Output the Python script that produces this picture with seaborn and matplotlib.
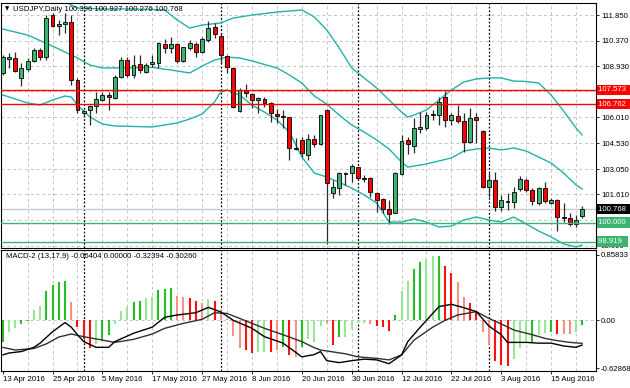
import numpy as np
import pandas as pd
import matplotlib
matplotlib.use("Agg")
import matplotlib.pyplot as plt
import matplotlib.transforms as mtransforms
import seaborn as sns

# ── data (USDJPY daily, 13 Apr - 22 Aug 2016) ──
date_labels = ["13 Apr 2016", "25 Apr 2016", "5 May 2016", "17 May 2016", "27 May 2016",
               "8 Jun 2016", "20 Jun 2016", "30 Jun 2016", "12 Jul 2016", "22 Jul 2016",
               "3 Aug 2016", "15 Aug 2016"]
label_bars = [0, 8, 16, 24, 32, 40, 48, 56, 64, 72, 80, 88]
month_start_bars = [13, 35, 57, 78]

opens = [108.52, 109.32, 109.38, 108.27, 108.75, 109.25, 109.86, 109.44, 111.85, 111.23,
         111.32, 111.44, 108.14, 106.28, 106.43, 106.66, 107.00, 107.29, 107.13, 108.33,
         109.28, 108.43, 109.04, 108.62, 109.04, 109.13, 110.18, 109.95, 110.18, 109.23,
         109.95, 110.18, 109.76, 110.43, 111.15, 110.65, 109.53, 108.85, 106.37, 107.57,
         107.32, 106.98, 107.06, 106.85, 106.18, 106.09, 106.01, 104.26, 104.72, 103.86,
         104.75, 104.49, 106.43, 101.71, 101.96, 102.76, 102.85, 103.16, 102.53, 102.53,
         101.71, 101.33, 100.76, 100.57, 102.77, 104.72, 104.39, 105.33, 105.38, 106.13,
         106.14, 107.19, 105.86, 106.09, 105.82, 104.62, 106.01, 105.25, 102.01, 102.43,
         100.87, 101.20, 101.20, 101.90, 102.43, 101.86, 101.10, 101.96, 101.14, 101.29,
         100.30, 100.24, 99.92, 100.396]
highs = [109.57, 109.66, 109.76, 109.09, 109.38, 109.95, 109.95, 111.85, 111.95, 111.57,
         111.95, 111.85, 108.24, 106.43, 106.72, 107.48, 107.48, 107.48, 108.43, 109.44,
         109.44, 109.57, 109.57, 109.09, 109.57, 110.33, 110.46, 110.62, 110.27, 110.05,
         110.43, 110.33, 110.62, 111.53, 111.38, 110.81, 109.57, 108.90, 107.67, 107.91,
         107.38, 107.19, 107.15, 106.91, 106.47, 106.43, 106.05, 104.81, 104.91, 105.06,
         105.00, 106.16, 106.47, 102.43, 102.91, 102.91, 103.35, 103.19, 102.72, 102.59,
         101.77, 101.39, 101.29, 102.91, 105.00, 104.91, 105.95, 106.33, 106.33, 106.43,
         107.19, 107.53, 106.24, 106.72, 106.24, 106.52, 106.24, 105.29, 102.81, 102.87,
         101.58, 101.71, 102.05, 102.66, 102.53, 101.96, 102.05, 102.34, 101.39, 101.33,
         101.10, 100.53, 100.43, 100.927]
lows = [108.43, 108.81, 108.62, 107.82, 108.67, 109.19, 109.28, 109.28, 111.19, 110.71,
        110.81, 107.86, 106.24, 106.14, 105.57, 106.28, 106.94, 106.43, 107.04, 108.24,
        108.33, 108.24, 108.52, 108.52, 108.90, 108.81, 109.66, 109.66, 109.13, 109.19,
        109.86, 109.47, 109.66, 110.33, 110.52, 109.09, 108.56, 106.52, 106.33, 107.15,
        106.56, 106.28, 106.58, 105.76, 105.67, 105.38, 103.58, 104.15, 103.77, 103.58,
        104.34, 104.43, 98.80, 101.39, 101.58, 102.15, 102.34, 102.43, 102.34, 101.48,
        100.62, 100.53, 99.92, 100.53, 102.72, 103.92, 103.96, 105.10, 105.29, 105.86,
        105.57, 105.44, 105.57, 105.67, 104.05, 104.53, 104.53, 101.96, 101.48, 100.68,
        100.68, 100.72, 100.82, 101.82, 101.77, 101.01, 101.01, 101.10, 101.06, 99.54,
        100.05, 99.81, 99.77, 100.276]
closes = [109.44, 109.44, 108.67, 108.85, 109.25, 109.86, 109.44, 111.66, 111.23, 111.34,
          111.44, 108.14, 106.43, 106.37, 106.66, 107.06, 107.29, 107.15, 108.29, 109.28,
          108.43, 109.00, 108.71, 109.00, 109.17, 110.24, 109.95, 110.18, 109.23, 110.01,
          110.24, 109.76, 110.46, 111.09, 110.75, 109.57, 108.90, 106.58, 107.57, 107.38,
          107.00, 107.13, 106.81, 106.24, 106.11, 106.03, 104.28, 104.22, 103.96, 104.75,
          104.49, 106.14, 102.28, 102.01, 102.81, 102.81, 103.25, 102.53, 102.47, 101.73,
          101.29, 100.76, 100.47, 102.85, 104.68, 104.49, 105.38, 105.48, 106.14, 106.18,
          106.91, 105.86, 106.14, 105.82, 104.62, 105.95, 105.86, 102.01, 102.43, 100.91,
          101.29, 101.23, 101.77, 102.47, 101.86, 101.25, 101.96, 101.25, 101.29, 100.30,
          100.24, 99.90, 100.15, 100.768]

# Bollinger bands (bar index, price)
upper_bars = [10, 12, 16, 20, 24, 26, 28, 30, 32, 35, 37, 40, 44, 48, 50, 52, 54, 56, 58, 60,
              62, 64, 65, 66, 68, 70, 72, 74, 76, 78, 80, 82, 84, 86, 88, 90, 92, 93]
upper_vals = [112.60, 112.25, 112.20, 112.20, 112.17, 112.14, 111.57, 111.11, 111.28, 111.40,
              111.68, 111.85, 112.02, 112.14, 111.74, 111.00, 109.97, 108.83, 108.26, 107.69,
              107.00, 106.31, 106.03, 106.14, 106.43, 107.00, 107.57, 108.03, 108.20, 108.26,
              108.26, 108.08, 108.06, 107.97, 107.29, 106.37, 105.40, 105.00]
middle_bars = [0, 4, 8, 12, 14, 16, 20, 24, 28, 30, 32, 34, 36, 38, 40, 44, 46, 48, 50, 52,
               54, 56, 58, 60, 62, 64, 65, 66, 68, 70, 72, 74, 76, 78, 80, 82, 84, 86, 88,
               90, 92, 93]
middle_vals = [111.05, 110.71, 110.08, 109.40, 109.00, 108.83, 108.83, 108.86, 108.66, 108.54,
               108.94, 109.28, 109.45, 109.40, 109.23, 108.83, 108.43, 107.97, 107.23, 106.77,
               106.14, 105.57, 105.17, 104.72, 104.20, 103.46, 103.17, 103.23, 103.35, 103.52,
               103.69, 104.09, 104.20, 104.26, 104.15, 104.26, 104.09, 103.74, 103.40, 102.83,
               102.15, 101.92]
lower_bars = [0, 4, 6, 8, 10, 11, 12, 14, 16, 18, 24, 28, 30, 32, 34, 35, 36, 37, 38, 40,
              42, 44, 46, 48, 50, 52, 54, 56, 58, 60, 62, 64, 66, 68, 70, 72, 74, 76, 78,
              80, 82, 84, 86, 88, 90, 92, 93]
lower_vals = [107.29, 106.83, 106.71, 107.00, 107.23, 107.17, 106.71, 106.03, 105.63, 105.52,
              105.46, 105.69, 105.91, 106.20, 106.89, 107.46, 107.57, 107.40, 107.29, 106.71,
              106.31, 105.86, 105.17, 103.75, 102.83, 102.60, 102.30, 101.97, 101.58, 101.12,
              100.03, 100.03, 100.21, 100.03, 99.75, 99.80, 100.15, 100.32, 100.15, 100.03,
              100.32, 99.92, 99.52, 99.18, 98.78, 98.61, 98.72]

red_levels = [107.573, 106.762]
green_levels = [100.000, 98.919]
last_price = 100.768
grid_prices = [111.850, 110.370, 108.930, 107.490, 106.010, 104.530, 103.050, 101.610, 100.170, 98.690]
price_ticks = [111.850, 110.370, 108.930, 106.010, 104.530, 103.050, 101.610, 98.690]

# MACD-2 (13,17,9)
hist = [-0.28, -0.15, -0.105, -0.048, -0.01, 0.136, 0.19, 0.39, 0.47, 0.51,
        0.52, 0.24, -0.09, -0.25, -0.37, -0.31, -0.26, -0.19, -0.05, 0.127,
        0.17, 0.245, 0.26, 0.29, 0.31, 0.40, 0.41, 0.42, 0.32, 0.30,
        0.29, 0.25, 0.23, 0.28, 0.25, 0.14, 0.02, -0.21, -0.37, -0.39,
        -0.43, -0.41, -0.41, -0.41, -0.39, -0.35, -0.46, -0.48, -0.35, -0.24,
        -0.29, -0.075, -0.03, -0.32, -0.215, -0.22, -0.12, -0.03, -0.03, -0.05,
        -0.075, -0.09, -0.135, 0.07, 0.38, 0.52, 0.68, 0.76, 0.81, 0.84,
        0.84, 0.71, 0.62, 0.51, 0.31, 0.23, 0.11, -0.15, -0.32, -0.53,
        -0.59, -0.60, -0.51, -0.37, -0.27, -0.28, -0.19, -0.17, -0.15, -0.18,
        -0.18, -0.18, -0.16, -0.064]
hist_kind = ["G", "LG", "LG", "G", "G", "LG", "LG", "G", "G", "G",
             "G", "LR", "R", "R", "R", "LG", "G", "G", "LG", "LG",
             "LG", "G", "G", "LG", "LG", "G", "G", "G", "LR", "LR",
             "R", "R", "LR", "LG", "R", "LR", "LR", "LR", "LR", "R",
             "R", "LG", "LG", "R", "LR", "G", "R", "LR", "G", "LG",
             "LG", "LG", "LR", "R", "G", "LG", "LG", "LG", "LG", "LR",
             "R", "R", "R", "G", "LG", "LG", "G", "G", "LG", "LG",
             "G", "R", "R", "LR", "LR", "R", "R", "LR", "LR", "R",
             "R", "R", "LG", "LG", "LG", "G", "LG", "LG", "G", "R",
             "LR", "LR", "LG", "G"]
macd_bars = [0, 1, 3, 5, 6, 8, 10, 11, 12, 13, 15, 17, 18, 21, 24, 26, 28, 31, 33, 35,
             37, 40, 42, 45, 48, 50, 51, 52, 54, 56, 58, 60, 62, 64, 65, 67, 70, 72, 74,
             76, 78, 80, 81, 84, 86, 88, 90, 92, 93]
macd_vals = [-0.455, -0.43, -0.41, -0.355, -0.30, -0.15, -0.03, -0.09, -0.19, -0.28,
             -0.355, -0.355, -0.28, -0.17, -0.09, 0.04, 0.07, 0.10, 0.17, 0.11,
             0.0, -0.105, -0.215, -0.30, -0.48, -0.45, -0.41, -0.53, -0.556, -0.53,
             -0.51, -0.52, -0.57, -0.455, -0.28, -0.09, 0.18, 0.21, 0.166, 0.114,
             -0.074, -0.19, -0.29, -0.29, -0.30, -0.30, -0.337, -0.355, -0.32394]
signal_bars = [0, 2, 5, 7, 9, 11, 13, 16, 18, 21, 24, 26, 29, 32, 34, 36, 38, 40, 42, 45,
               48, 50, 51, 55, 57, 60, 62, 64, 66, 69, 71, 73, 76, 78, 80, 82, 85, 87, 89,
               91, 93]
signal_vals = [-0.355, -0.39, -0.37, -0.31, -0.22, -0.18, -0.215, -0.26, -0.29, -0.25,
               -0.18, -0.105, -0.04, 0.013, 0.10, 0.09, 0.026, -0.04, -0.105, -0.19,
               -0.28, -0.36, -0.39, -0.44, -0.48, -0.50, -0.52, -0.455, -0.26, -0.09,
               0.0, 0.07, 0.114, 0.026, -0.048, -0.127, -0.19, -0.237, -0.267, -0.29,
               -0.30260]

# ── styling ──
sns.set_theme(style="white")
plt.rcParams['font.family'] = ['Liberation Sans', 'DejaVu Sans']
FS = 5.6
BULL = '#3CB371'
BEAR = '#FF0000'
BAND = '#20B2AA'
GRID = '#C4C4C4'
hist_palette = {"G": '#22C022', "LG": '#98E698', "R": '#FF1010', "LR": '#F79088'}

fig = plt.figure(figsize=(6.3, 3.88), dpi=100)
ax = fig.add_axes([1 / 630, 140 / 388, 595 / 630, 245.3 / 388])
ax2 = fig.add_axes([1 / 630, 17.3 / 388, 595 / 630, 120.7 / 388])

n = len(closes)
xs = np.arange(n)
df = pd.DataFrame({'open': opens, 'high': highs, 'low': lows, 'close': closes}, index=xs)
xlim = (-0.27, 95.2)

for a in (ax, ax2):
    a.set_facecolor('white')
    a.set_xlim(*xlim)
    for b in range(4, 94, 4):
        a.axvline(b, color=GRID, lw=0.7, ls=(0, (3, 3)), zorder=0)
    for b in month_start_bars:
        a.axvline(b, color='black', lw=0.9, ls=(0, (1.5, 1.5)), zorder=1)
    for s in a.spines.values():
        s.set_color('black')
        s.set_linewidth(0.8)

# ── price panel ──
ax.set_ylim(98.55, 112.556)
for t in grid_prices:
    ax.axhline(t, color=GRID, lw=0.7, ls=(0, (3, 3)), zorder=0)
ax.axhline(last_price, color='#C8C8C8', lw=1.0, zorder=1)
for lv in red_levels:
    ax.axhline(lv, color='#FF0000', lw=1.0, zorder=5)
for lv in green_levels:
    ax.axhline(lv, color=BULL, lw=1.0, zorder=5)

sns.lineplot(x=upper_bars, y=upper_vals, ax=ax, color=BAND, lw=1.0, zorder=2)
sns.lineplot(x=middle_bars, y=middle_vals, ax=ax, color=BAND, lw=1.0, zorder=2)
sns.lineplot(x=lower_bars, y=lower_vals, ax=ax, color=BAND, lw=1.0, zorder=2)

up = df['close'] >= df['open']
ax.vlines(xs, df['low'], df['high'], color='#2a2a2a', lw=0.9, zorder=3)
body_lo = np.minimum(df['open'], df['close'])
body_h = np.maximum((df['close'] - df['open']).abs(), 0.04)
ax.bar(xs, body_h, bottom=body_lo, width=0.62, color=np.where(up, BULL, BEAR),
       edgecolor='black', linewidth=0.6, zorder=4)

ax.yaxis.tick_right()
ax.set_yticks(price_ticks)
ax.set_yticklabels([f"{t:.3f}" for t in price_ticks])
ax.tick_params(axis='y', right=True, length=2, width=0.6, pad=1.5, labelsize=FS, colors='black')
ax.set_xticks([])
ax.set_xlabel('')
ax.set_ylabel('')

trans = mtransforms.blended_transform_factory(ax.transAxes, ax.transData)
tags = [(red_levels[0], BEAR), (red_levels[1], BEAR), (last_price, 'black'),
        (green_levels[0], BULL), (green_levels[1], BULL)]
for val, colr in tags:
    ax.text(1.004, val, f"{val:.3f}  ", transform=trans, ha='left', va='center', fontsize=FS,
            color='white', clip_on=False, zorder=10,
            bbox=dict(boxstyle='square,pad=0.22', fc=colr, ec='none'))

ax.text(0.006, 0.985, "\u25BC", transform=ax.transAxes, ha='left', va='top', fontsize=4,
        color='black', family='DejaVu Sans', zorder=10)
ax.text(0.021, 0.988, f"USDJPY,Daily {opens[-1]:.3f} {highs[-1]:.3f} {lows[-1]:.3f} {closes[-1]:.3f}",
        transform=ax.transAxes, ha='left', va='top', fontsize=FS, color='black', zorder=10)

# ── MACD panel ──
ax2.set_ylim(-0.662, 0.924)
ax2.axhline(0, color=GRID, lw=0.7, ls=(0, (3, 3)), zorder=0)
ax2.vlines(xs, 0, hist, colors=[hist_palette[k] for k in hist_kind], lw=1.5, zorder=2)
sns.lineplot(x=signal_bars, y=signal_vals, ax=ax2, color='#303030', lw=1.0, zorder=3)
sns.lineplot(x=macd_bars, y=macd_vals, ax=ax2, color='black', lw=1.0, zorder=3)

ax2.yaxis.tick_right()
macd_ticks = [0.85833, 0.0, -0.62868]
ax2.set_yticks(macd_ticks)
ax2.set_yticklabels(["0.85833", "0.00", "-0.62868"])
ax2.tick_params(axis='y', right=True, length=2, width=0.6, pad=1.5, labelsize=FS, colors='black')
ax2.set_xticks(label_bars)
ax2.set_xticklabels(date_labels, ha='left')
ax2.tick_params(axis='x', bottom=True, length=2, width=0.6, pad=2, labelsize=FS, colors='black')
ax2.set_xlabel('')
ax2.set_ylabel('')
ax2.text(0.008, 0.975, "MACD-2 (13,17,9) -0.06404 0.00000 -0.32394 -0.30260",
         transform=ax2.transAxes, ha='left', va='top', fontsize=FS, color='black', zorder=10)

fig.savefig('out.png', dpi=100, facecolor='white')
